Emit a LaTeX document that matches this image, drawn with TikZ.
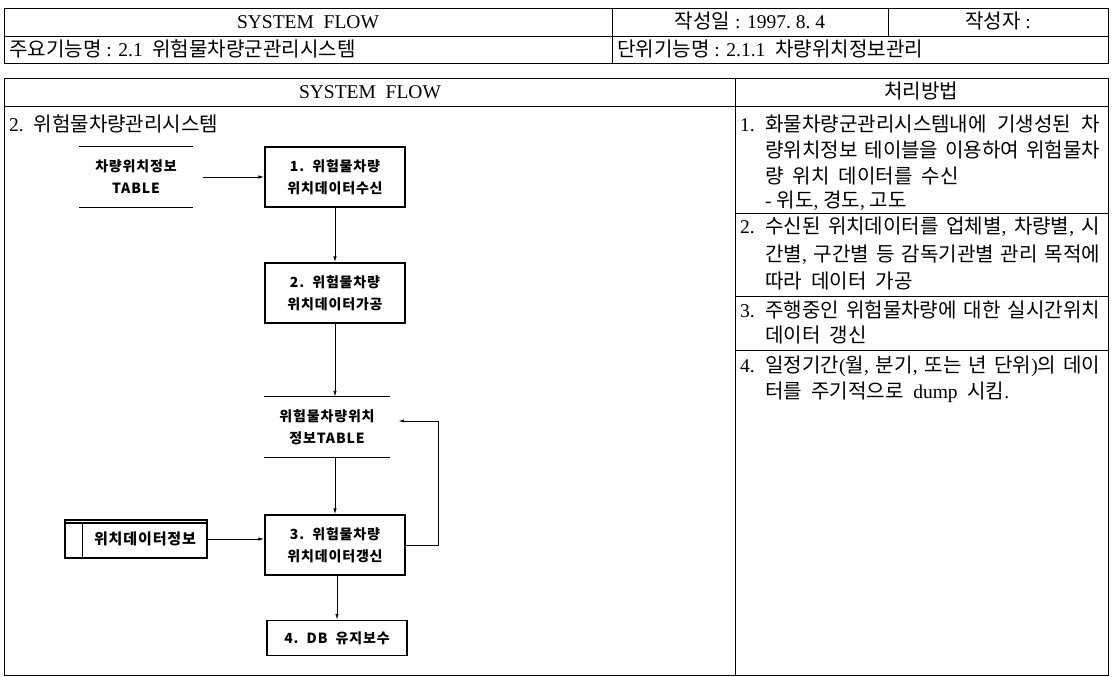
\documentclass[tikz,border=0pt]{standalone}
\usepackage{fontspec}
\setmainfont{Liberation Serif}
\newfontfamily\kr[Scale=1.03]{Noto Sans CJK KR}
\newfontfamily\krf[LetterSpace=6]{Noto Sans CJK KR}
\newcommand\K[1]{{\kr #1}}
\usetikzlibrary{arrows.meta}
\tikzset{
  tbl/.style={line width=0.8pt},
  hd/.style={font=\fontsize{19.5}{23}\selectfont, inner sep=0pt},
  rc/.style={font=\fontsize{19.5}{23}\selectfont, inner sep=0pt, anchor=base west},
  proc/.style={draw, line width=1.3pt, minimum width=140pt, minimum height=60pt,
    align=center, inner sep=0pt, font=\krf\bfseries\fontsize{14}{22}\selectfont},
  storenode/.style={minimum height=60pt, align=center, inner sep=0pt,
    font=\krf\bfseries\fontsize{14}{22}\selectfont},
  storeline/.style={line width=1.3pt},
  arr/.style={-{Latex[length=6pt,width=3.5pt]}, line width=1pt}
}
\begin{document}
\begin{tikzpicture}[x=1pt,y=-1pt]
\useasboundingbox (0,0) rectangle (1112,677);
% ---------- header table ----------
\draw[tbl] (4,8) rectangle (1108,63);
\draw[tbl] (4,36) -- (1108,36);
\draw[tbl] (612,8) -- (612,63);
\draw[tbl] (888,8) -- (888,36);
\node[hd, anchor=base] (h1) at (308,29) {SYSTEM\ \ FLOW};
\node[hd, anchor=base] (h2) at (750,29) {\K{작성일} : 1997.\ 8.\ 4};
\node[hd, anchor=base] (h3) at (998,29) {\K{작성자} :};
\node[hd, anchor=base west] (h4) at (9,56.5) {\K{주요기능명} : 2.1\ \ \K{위험물차량군관리시스템}};
\node[hd, anchor=base west] (h5) at (617,56.5) {\K{단위기능명} : 2.1.1\ \ \K{차량위치정보관리}};
% ---------- main table ----------
\draw[tbl] (4,78) rectangle (1108,675);
\draw[tbl] (4,106) -- (1108,106);
\draw[tbl] (735,78) -- (735,675);
\draw[tbl] (735,213) -- (1108,213);
\draw[tbl] (735,296) -- (1108,296);
\draw[tbl] (735,350) -- (1108,350);
\node[hd, anchor=base] (m1) at (370,99) {SYSTEM\ \ FLOW};
\node[hd, anchor=base] (m2) at (921,99) {\K{처리방법}};
\node[hd, anchor=base west] (m3) at (9,131.5) {2.\ \ \K{위험물차량관리시스템}};
% ---------- right column ----------
\node[rc] (r1a) at (740,131.5) {1.};
\node[rc] (r1b) at (765,131.5) {\hbox to 335pt{\K{화물차량군관리시스템내에}\hfill\K{기생성된}\hfill\K{차}}};
\node[rc] (r1c) at (765,157.5) {\hbox to 335pt{\K{량위치정보}\hfill\K{테이블을}\hfill\K{이용하여}\hfill\K{위험물차}}};
\node[rc] (r1d) at (765,183.5) {\K{량\ \ 위치\ \ 데이터를\ \ 수신}};
\node[rc] (r1e) at (765,207.5) {-\ \K{위도}, \K{경도}, \K{고도}};
\node[rc] (r2a) at (740,233.5) {2.};
\node[rc] (r2b) at (765,233.5) {\hbox to 335pt{\K{수신된}\hfill\K{위치데이터를}\hfill\K{업체별},\hfill\K{차량별},\hfill\K{시}}};
\node[rc] (r2c) at (765,261.5) {\hbox to 335pt{\K{간별},\hfill\K{구간별}\hfill\K{등}\hfill\K{감독기관별}\hfill\K{관리}\hfill\K{목적에}}};
\node[rc] (r2d) at (765,288.5) {\K{따라\ \ 데이터\ \ 가공}};
\node[rc] (r3a) at (740,317.5) {3.};
\node[rc] (r3b) at (765,317.5) {\hbox to 335pt{\K{주행중인}\hfill\K{위험물차량에}\hfill\K{대한}\hfill\K{실시간위치}}};
\node[rc] (r3c) at (765,342.5) {\K{데이터\ \ 갱신}};
\node[rc] (r4a) at (740,372.5) {4.};
\node[rc] (r4b) at (765,372.5) {\hbox to 335pt{\K{일정기간}(\K{월},\hfill\K{분기},\hfill\K{또는}\hfill\K{년}\hfill\K{단위})\K{의}\hfill\K{데이}}};
\node[rc] (r4c) at (765,398.5) {\K{터를\ \ 주기적으로}\ \ dump\ \ \K{시킴}.};
% ---------- flow chart ----------
\node[storenode, minimum width=113pt] (s1) at (136,177) {차량위치정보\\TABLE};
\draw[storeline] (s1.north west) -- (s1.north east) (s1.south west) -- (s1.south east);
\node[proc] (b1) at (335,177) {1.\ \ 위험물차량\\위치데이터수신};
\node[proc] (b2) at (335,293) {2.\ \ 위험물차량\\위치데이터가공};
\node[storenode, minimum width=126pt] (s2) at (327,427) {위험물차량위치\\정보TABLE};
\draw[storeline] (s2.north west) -- (s2.north east) (s2.south west) -- (s2.south east);
\node[proc] (b3) at (335,545) {3.\ \ 위험물차량\\위치데이터갱신};
\node[proc, minimum height=35pt] (b4) at (337,638) {4.\ \ DB\ \ 유지보수};
\node[draw, line width=1.3pt, minimum width=142pt, minimum height=38pt, inner sep=0pt,
  font=\krf\bfseries\fontsize{15}{22}\selectfont] (ds) at (136,539) {\hspace*{18pt}위치데이터정보};
\draw[storeline] ([yshift=-3.5pt]ds.north west) -- ([yshift=-3.5pt]ds.north east);
\draw[storeline] ([xshift=18pt,yshift=-3.5pt]ds.north west) -- ([xshift=18pt]ds.south west);
% connectors
\draw[arr] ([xshift=10pt]s1.east) -- (b1.west);
\draw[arr] (b1.south) -- (b2.north);
\draw[arr] (b2.south) -- (s2.north -| b2.south);
\draw[arr] (s2.south -| b3.north) -- (b3.north);
\draw[arr] (b3.south -| b4.north) -- (b4.north);
\draw[arr] (ds.east) -- (ds.east -| b3.west);
\draw[arr] (b3.east) -- ++(33,0) |- ([xshift=8pt,yshift=6pt]s2.east);
\end{tikzpicture}
\end{document}
